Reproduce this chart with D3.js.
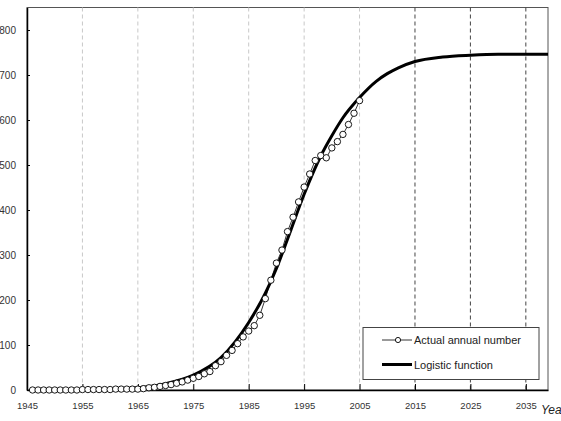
<!DOCTYPE html>
<html>
<head>
<meta charset="utf-8">
<script src="https://cdn.jsdelivr.net/npm/d3@7"></script>
<style>
  body { margin: 0; background: #fff; }
  svg { display: block; font-family: "Liberation Sans", Arial, sans-serif; }
</style>
</head>
<body>
<div id="vis"></div>
<script>
const FRAME_WIDTH = 561;
const FRAME_HEIGHT = 421;
const PLOT = {left: 27, right: 548, top: 7.5, bottom: 390};

// actual annual number, 1946-2005
const actualYears = [1946, 1947, 1948, 1949, 1950, 1951, 1952, 1953, 1954, 1955,
                     1956, 1957, 1958, 1959, 1960, 1961, 1962, 1963, 1964, 1965,
                     1966, 1967, 1968, 1969, 1970, 1971, 1972, 1973, 1974, 1975,
                     1976, 1977, 1978, 1979, 1980, 1981, 1982, 1983, 1984, 1985,
                     1986, 1987, 1988, 1989, 1990, 1991, 1992, 1993, 1994, 1995,
                     1996, 1997, 1998, 1999, 2000, 2001, 2002, 2003, 2004, 2005];
const actualValues = [0, 0, 0, 0, 0, 0, 0, 0, 0, 1,
                      1, 1, 1, 1, 1, 2, 2, 2, 2, 2,
                      3, 5, 6, 8, 10, 12, 15, 18, 22, 26,
                      30, 36, 41, 54, 63, 77, 88, 103, 118, 131,
                      143, 166, 203, 244, 282, 311, 352, 384, 418, 451,
                      480, 510, 521, 516, 538, 552, 568, 590, 615, 643];

// logistic function
const logisticYears = [1946, 1950, 1955, 1960, 1965, 1970, 1975, 1980, 1985, 1988,
                       1990, 1992, 1995, 1998, 2000, 2002, 2005, 2008, 2010, 2012,
                       2015, 2020, 2025, 2030, 2035, 2039];
const logisticValues = [0, 0, 1, 2, 5, 14, 33, 72, 150, 215,
                        270, 335, 435, 520, 565, 605, 650, 686, 703, 716,
                        730, 740, 744, 746, 746, 746];

const xTicks = [1945, 1955, 1965, 1975, 1985, 1995, 2005, 2015, 2025, 2035];
const yTicks = [0, 100, 200, 300, 400, 500, 600, 700, 800];
const lightGrid = [1955, 1965, 1975, 1985, 1995, 2005];
const darkGrid = [2015, 2025, 2035];

const svg = d3.select("#vis")
              .append("svg")
                .attr("width", FRAME_WIDTH)
                .attr("height", FRAME_HEIGHT);

const X_SCALE = d3.scaleLinear().domain([1945, 2039]).range([PLOT.left, PLOT.right]);
const Y_SCALE = d3.scaleLinear().domain([0, 850]).range([PLOT.bottom, PLOT.top]);

// plot border
svg.append("rect")
    .attr("x", PLOT.left)
    .attr("y", PLOT.top)
    .attr("width", PLOT.right - PLOT.left)
    .attr("height", PLOT.bottom - PLOT.top)
    .attr("fill", "none")
    .attr("stroke", "#555")
    .attr("stroke-width", 1);

// grid lines
svg.selectAll(".glight")
    .data(lightGrid)
    .enter()
    .append("line")
      .attr("x1", d => X_SCALE(d)).attr("x2", d => X_SCALE(d))
      .attr("y1", PLOT.top).attr("y2", PLOT.bottom)
      .attr("stroke", "#c8c8c8")
      .attr("stroke-dasharray", "4,3");

svg.selectAll(".gdark")
    .data(darkGrid)
    .enter()
    .append("line")
      .attr("x1", d => X_SCALE(d)).attr("x2", d => X_SCALE(d))
      .attr("y1", PLOT.top).attr("y2", PLOT.bottom)
      .attr("stroke", "#444")
      .attr("stroke-dasharray", "4,3");

// axes
const xAxis = svg.append("g")
    .attr("transform", "translate(0," + PLOT.bottom + ")")
    .call(d3.axisBottom(X_SCALE).tickValues(xTicks).tickFormat(d3.format("d"))
            .tickSizeInner(-6).tickSizeOuter(0).tickPadding(12));
xAxis.select(".domain").attr("stroke", "#000").attr("stroke-width", 1.5);
xAxis.selectAll(".tick line").attr("stroke", "#000");
xAxis.selectAll("text").attr("font-size", "9.5px").attr("fill", "#333")
    .attr("font-family", "Liberation Sans, Arial, sans-serif");

const yAxis = svg.append("g")
    .attr("transform", "translate(" + PLOT.left + ",0)")
    .call(d3.axisLeft(Y_SCALE).tickValues(yTicks)
            .tickSizeInner(-3).tickSizeOuter(0).tickPadding(11));
yAxis.select(".domain").attr("stroke", "#000").attr("stroke-width", 1.5);
yAxis.selectAll(".tick line").attr("stroke", "#000");
yAxis.selectAll("text").attr("font-size", "10px").attr("fill", "#333")
    .attr("font-family", "Liberation Sans, Arial, sans-serif");

// logistic curve
const logisticData = logisticYears.map((y, i) => [y, logisticValues[i]]);
svg.append("path")
    .datum(logisticData)
    .attr("fill", "none")
    .attr("stroke", "#000")
    .attr("stroke-width", 3)
    .attr("d", d3.line().x(d => X_SCALE(d[0])).y(d => Y_SCALE(d[1])).curve(d3.curveMonotoneX));

// actual series
const actualData = actualYears.map((y, i) => [y, actualValues[i]]);
svg.append("path")
    .datum(actualData)
    .attr("fill", "none")
    .attr("stroke", "#000")
    .attr("stroke-width", 0.8)
    .attr("d", d3.line().x(d => X_SCALE(d[0])).y(d => Y_SCALE(d[1])));

svg.selectAll(".pt")
    .data(actualData)
    .enter()
    .append("circle")
      .attr("cx", d => X_SCALE(d[0]))
      .attr("cy", d => Y_SCALE(d[1]))
      .attr("r", 3.2)
      .attr("fill", "#fff")
      .attr("stroke", "#000")
      .attr("stroke-width", 0.9);

// legend
const legend = svg.append("g");
legend.append("rect")
    .attr("x", 363).attr("y", 327.5)
    .attr("width", 176).attr("height", 52)
    .attr("fill", "#fff")
    .attr("stroke", "#444");
legend.append("line")
    .attr("x1", 382).attr("x2", 412).attr("y1", 340).attr("y2", 340)
    .attr("stroke", "#000").attr("stroke-width", 0.8);
legend.append("circle")
    .attr("cx", 398).attr("cy", 340).attr("r", 2.6)
    .attr("fill", "#fff").attr("stroke", "#000").attr("stroke-width", 0.9);
legend.append("text")
    .attr("x", 414).attr("y", 344)
    .attr("font-size", "11px").attr("fill", "#222")
    .text("Actual annual number");
legend.append("line")
    .attr("x1", 382).attr("x2", 412).attr("y1", 364.5).attr("y2", 364.5)
    .attr("stroke", "#000").attr("stroke-width", 3);
legend.append("text")
    .attr("x", 414).attr("y", 368.5)
    .attr("font-size", "11px").attr("fill", "#222")
    .text("Logistic function");

// axis title, clipped by the right edge as in the source
svg.append("text")
    .attr("x", 541).attr("y", 414)
    .attr("font-size", "12px")
    .attr("font-style", "italic")
    .attr("fill", "#222")
    .text("Year");
</script>
</body>
</html>
